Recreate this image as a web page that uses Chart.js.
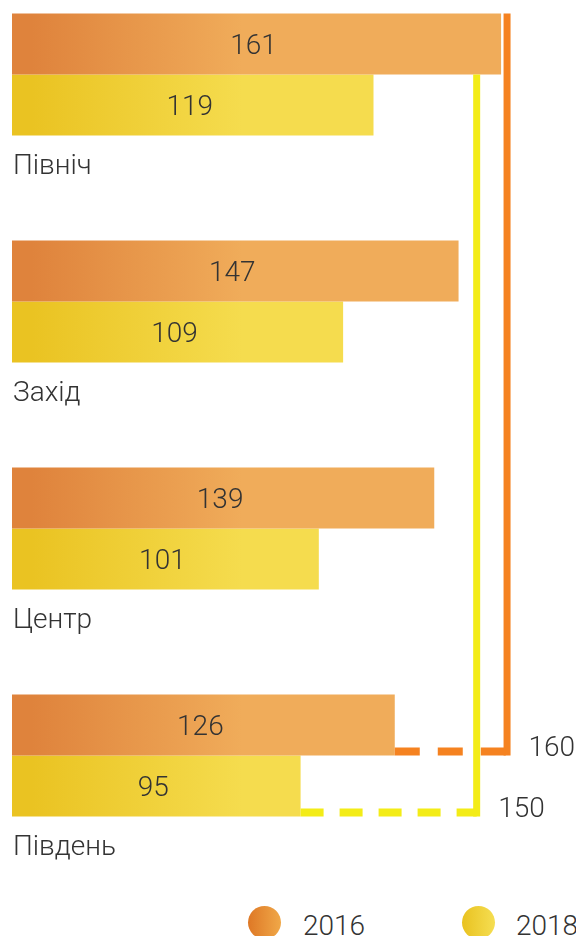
<!DOCTYPE html>
<html>
<head>
<meta charset="utf-8">
<script src="https://cdn.jsdelivr.net/npm/chart.js@4/dist/chart.umd.min.js"></script>
<style>
  html, body { margin: 0; padding: 0; background: #fff; }
  body { width: 576px; height: 936px; position: relative; overflow: hidden;
         font-family: Roboto, "Noto Sans", sans-serif; font-weight: 300; color: #333; }
  #wrap { position: absolute; left: 0; top: -39px; width: 576px; height: 908px; }
  .dot { position: absolute; top: 906px; width: 33px; height: 33px; border-radius: 50%; }
  .lbl { position: absolute; top: 912px; font-size: 28px; line-height: 28px; }
</style>
</head>
<body>
<div id="wrap"><canvas id="regionChart"></canvas></div>
<div class="dot" style="left:248px; background:linear-gradient(90deg,#DE7826,#F0A848)"></div>
<div class="lbl" style="left:303px">2016</div>
<div class="dot" style="left:462px; background:linear-gradient(90deg,#E9C220,#F5DE52)"></div>
<div class="lbl" style="left:516px">2018</div>
<script>
// Regions and values
const regions = ['Північ', 'Захід', 'Центр', 'Південь'];
const years = ['2016', '2018'];
const values2016 = [161, 147, 139, 126];
const values2018 = [119, 109, 101, 95];
const targets = [160, 150];

const lineColors = ['#F58220', '#F3EC17'];
const dashes = [[25, 18], [23, 16]];
const font = '300 28px Roboto, "Noto Sans", sans-serif';

function barGradient(from, to) {
  return (c) => {
    const { ctx, chartArea } = c.chart;
    if (!chartArea) return to;
    const g = ctx.createLinearGradient(chartArea.left + 20, 0, chartArea.left + 230, 0);
    g.addColorStop(0, from);
    g.addColorStop(1, to);
    return g;
  };
}

// value inside each bar + region name under each group
const barTexts = {
  id: 'barTexts',
  afterDatasetsDraw(chart) {
    const { ctx, chartArea } = chart;
    ctx.save();
    ctx.font = font;
    ctx.fillStyle = '#333';
    ctx.textBaseline = 'middle';
    ctx.textAlign = 'center';
    chart.data.datasets.forEach((ds, i) => {
      chart.getDatasetMeta(i).data.forEach((bar, j) => {
        ctx.fillText(ds.data[j], (bar.x + bar.base) / 2 - 3, bar.y + 3);
      });
    });
    ctx.textAlign = 'left';
    const lastMeta = chart.getDatasetMeta(chart.data.datasets.length - 1);
    lastMeta.data.forEach((bar, j) => {
      ctx.fillText(chart.data.labels[j], chartArea.left + 1, bar.y + bar.height / 2 + 31);
    });
    ctx.restore();
  }
};

// bracket lines for the targets
const targetLines = {
  id: 'targetLines',
  afterDatasetsDraw(chart) {
    const { ctx, scales: { x } } = chart;
    targets.forEach((t, i) => {
      const bars = chart.getDatasetMeta(i).data;
      const first = bars[0];
      const last = bars[bars.length - 1];
      const lx = x.getPixelForValue(t) + 9;
      const top = first.y - first.height / 2;
      const bottom = last.y + last.height / 2;
      ctx.save();
      ctx.strokeStyle = lineColors[i];
      ctx.lineWidth = 7;
      ctx.beginPath();
      ctx.moveTo(lx, top);
      ctx.lineTo(lx, bottom);
      ctx.stroke();
      ctx.lineWidth = 8;
      ctx.setLineDash(dashes[i]);
      ctx.beginPath();
      ctx.moveTo(last.x, bottom - 4);
      ctx.lineTo(lx, bottom - 4);
      ctx.stroke();
      ctx.setLineDash([]);
      ctx.fillStyle = '#333';
      ctx.font = font;
      ctx.textBaseline = 'alphabetic';
      ctx.fillText(String(t), lx + 3.5 + 18, bottom);
      ctx.restore();
    });
  }
};

new Chart(document.getElementById('regionChart'), {
  type: 'bar',
  data: {
    labels: regions,
    datasets: [{
      label: years[0],
      data: values2016,
      backgroundColor: barGradient('#DF833C', '#F0AC5A'),
      categoryPercentage: 122 / 227,
      barPercentage: 1
    }, {
      label: years[1],
      data: values2018,
      backgroundColor: barGradient('#EAC322', '#F5DC4E'),
      categoryPercentage: 122 / 227,
      barPercentage: 1
    }]
  },
  options: {
    indexAxis: 'y',
    responsive: true,
    maintainAspectRatio: false,
    animation: false,
    layout: { padding: { left: 12, right: 2, top: 0, bottom: 0 } },
    plugins: {
      legend: { display: false },
      tooltip: { enabled: false }
    },
    scales: {
      x: { display: false, min: 0, max: 185 },
      y: { display: false }
    }
  },
  plugins: [barTexts, targetLines]
});
</script>
</body>
</html>
